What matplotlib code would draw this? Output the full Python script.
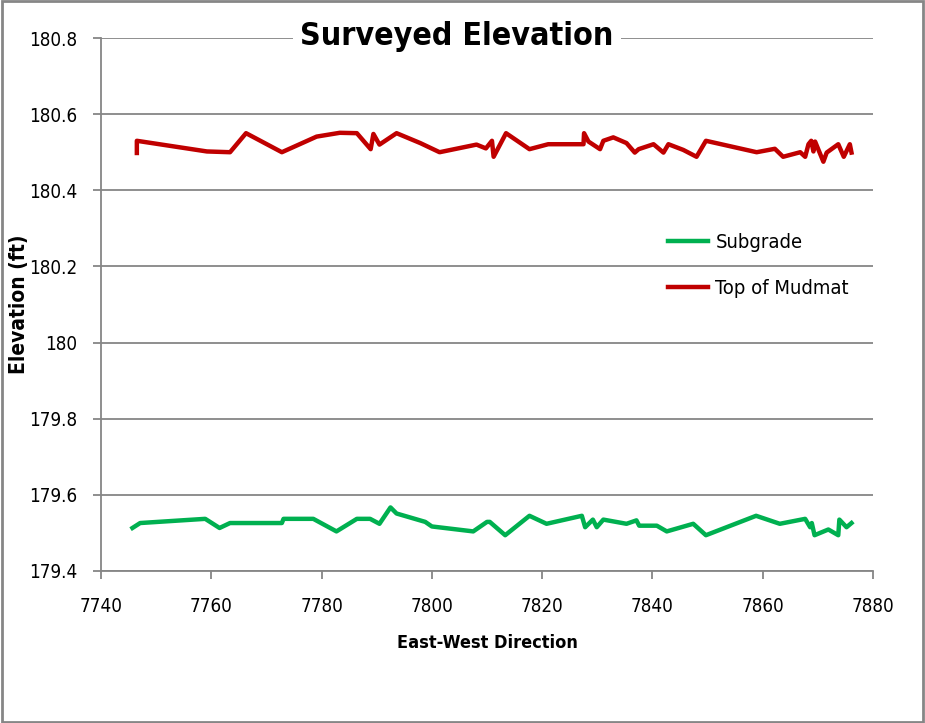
import matplotlib
matplotlib.use("Agg")
import matplotlib.pyplot as plt
from matplotlib.patches import Rectangle

# ================================
# DATA
# ================================
sub_x = [7745.7, 7747.1, 7758.9, 7761.5, 7763.4, 7772.8, 7773.1, 7778.5, 7782.7,
         7786.4, 7788.8, 7790.5, 7792.5, 7793.6, 7798.8, 7800.0, 7807.5, 7810.0,
         7810.5, 7813.3, 7817.7, 7820.8, 7827.2, 7827.8, 7829.2, 7829.9, 7831.1,
         7835.3, 7837.1, 7837.6, 7840.8, 7842.6, 7847.4, 7849.7, 7858.8, 7863.1,
         7867.7, 7868.6, 7868.9, 7869.4, 7871.9, 7872.5, 7873.7, 7873.9, 7875.2,
         7876.1]
sub_y = [179.513, 179.526, 179.537, 179.513, 179.526, 179.526, 179.537, 179.537, 179.504,
         179.537, 179.537, 179.524, 179.567, 179.551, 179.529, 179.517, 179.504, 179.529,
         179.529, 179.494, 179.545, 179.524, 179.545, 179.515, 179.535, 179.515, 179.535,
         179.524, 179.533, 179.519, 179.519, 179.504, 179.524, 179.494, 179.545, 179.524,
         179.537, 179.515, 179.526, 179.494, 179.509, 179.504, 179.494, 179.535, 179.515,
         179.526]

mud_x = [7746.5, 7746.5, 7759.2, 7763.4, 7766.3, 7772.8, 7779.1, 7783.3, 7786.4,
         7788.9, 7789.4, 7790.5, 7793.6, 7797.9, 7801.4, 7808.1, 7809.8, 7810.9,
         7811.2, 7813.45, 7817.7, 7821.1, 7827.5, 7827.6, 7828.4, 7830.5, 7831.1,
         7832.9, 7835.3, 7836.8, 7837.5, 7840.2, 7842.0, 7842.9, 7845.6, 7848.0,
         7849.7, 7858.9, 7862.2, 7863.7, 7866.8, 7867.7, 7868.3, 7868.8, 7869.2,
         7869.5, 7871.0, 7871.6, 7873.7, 7874.7, 7875.8, 7876.1]
mud_y = [180.498, 180.530, 180.502, 180.500, 180.550, 180.500, 180.541, 180.551, 180.550,
         180.508, 180.548, 180.520, 180.550, 180.524, 180.500, 180.520, 180.510, 180.530,
         180.488, 180.550, 180.508, 180.521, 180.521, 180.550, 180.528, 180.508, 180.530,
         180.539, 180.524, 180.499, 180.508, 180.521, 180.499, 180.521, 180.506, 180.488,
         180.530, 180.500, 180.509, 180.488, 180.500, 180.488, 180.521, 180.530, 180.502,
         180.528, 180.475, 180.499, 180.521, 180.488, 180.521, 180.499]

x_ticks = [7740, 7760, 7780, 7800, 7820, 7840, 7860, 7880]
y_ticks = [179.4, 179.6, 179.8, 180.0, 180.2, 180.4, 180.6, 180.8]
y_labels = ["179.4", "179.6", "179.8", "180", "180.2", "180.4", "180.6", "180.8"]

# ================================
# PLOT
# ================================
plt.rcParams['font.family'] = ['DejaVu Sans']
plt.rcParams['font.stretch'] = 'condensed'

fig = plt.figure(figsize=(9.25, 7.23), dpi=100)
ax = fig.add_axes([101 / 925, 1 - 571 / 723, (873 - 101) / 925, (571 - 38) / 723])

ax.plot(sub_x, sub_y, color="#00B050", lw=3.2, label="Subgrade")
ax.plot(mud_x, mud_y, color="#C00000", lw=3.2, label="Top of Mudmat")

ax.set_xlim(7740, 7880)
ax.set_ylim(179.4, 180.8)
ax.set_xticks(x_ticks)
ax.set_yticks(y_ticks)
ax.set_yticklabels(y_labels)
ax.grid(axis="y", color="#868686", lw=1.3)
ax.set_axisbelow(True)

for s in ["top", "right"]:
    ax.spines[s].set_visible(False)
for s in ["left", "bottom"]:
    ax.spines[s].set_color("#868686")
    ax.spines[s].set_linewidth(1.3)
ax.tick_params(axis="both", colors="#868686", labelcolor="black", labelsize=13.5,
               length=6, width=1.3)
ax.tick_params(axis="x", pad=13)
ax.tick_params(axis="y", pad=11)

ax.set_xlabel("East-West Direction", fontsize=13, fontweight="bold")
ax.xaxis.set_label_coords(0.5, (571 - 634) / 533)
ax.set_ylabel("Elevation (ft)", fontsize=15, fontweight="bold")
ax.yaxis.set_label_coords((29 - 101) / 772, 0.5)

fig.text(457 / 925, 1 - 37 / 723, "Surveyed Elevation", fontsize=23, fontweight="bold",
         ha="center", va="center",
         bbox=dict(facecolor="white", edgecolor="none", pad=5))

ax.legend(loc="upper left", bbox_to_anchor=(650 / 925, 1 - 215 / 723),
          bbox_transform=fig.transFigure, frameon=False, fontsize=14.5,
          handlelength=2.0, labelspacing=1.32, handletextpad=0.35)

# chart border
fig.add_artist(Rectangle((0.002, 0.002), 0.996, 0.996, transform=fig.transFigure,
                         fill=False, edgecolor="#868686", lw=2))

fig.savefig("out.png", dpi=100)
